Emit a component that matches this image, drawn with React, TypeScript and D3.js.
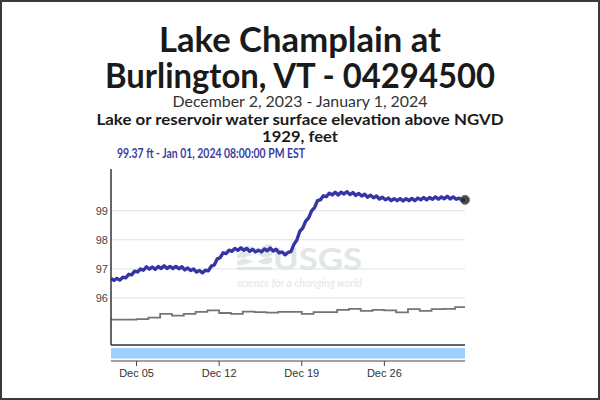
import React from "react";
import * as d3 from "d3";

const titleLines = ["Lake Champlain at", "Burlington, VT - 04294500"];
const subtitle = "December 2, 2023 - January 1, 2024";
const paramLines = ["Lake or reservoir water surface elevation above NGVD", "1929, feet"];
const latestLabel = "99.37 ft - Jan 01, 2024 08:00:00 PM EST";

// 6-hourly gage height readings (ft), starting Dec 2, 2023 20:00 EST
const levelStart = "2023-12-02T20:00:00Z";
const levelStepHours = 6;
const levelValues = [
  96.67, 96.60, 96.67, 96.61, 96.71, 96.69, 96.81, 96.79, 96.92, 96.89,
  96.99, 96.95, 97.07, 96.99, 97.06, 96.98, 97.08, 97.01, 97.10, 97.01,
  97.08, 97.01, 97.08, 97.00, 97.07, 96.96, 97.03, 96.94, 96.99, 96.89,
  96.94, 96.86, 96.95, 96.93, 97.09, 97.13, 97.34, 97.38, 97.55, 97.52,
  97.64, 97.60, 97.70, 97.63, 97.72, 97.64, 97.70, 97.60, 97.67, 97.58,
  97.64, 97.58, 97.68, 97.62, 97.71, 97.61, 97.67, 97.55, 97.58, 97.48,
  97.56, 97.59, 97.84, 97.99, 98.29, 98.40, 98.64, 98.75, 98.99, 99.10,
  99.34, 99.37, 99.51, 99.48, 99.60, 99.54, 99.63, 99.54, 99.63, 99.57,
  99.65, 99.55, 99.62, 99.52, 99.59, 99.50, 99.56, 99.46, 99.53, 99.44,
  99.50, 99.40, 99.46, 99.37, 99.43, 99.34, 99.41, 99.34, 99.41, 99.33,
  99.41, 99.34, 99.42, 99.34, 99.43, 99.37, 99.45, 99.37, 99.45, 99.39,
  99.47, 99.39, 99.47, 99.41, 99.49, 99.40, 99.47, 99.39, 99.43, 99.36,
  99.37,
];

// Daily comparison series (gray step line)
const compareDates = [
  "2023-12-02", "2023-12-03", "2023-12-04", "2023-12-05", "2023-12-06", "2023-12-07",
  "2023-12-08", "2023-12-09", "2023-12-10", "2023-12-11", "2023-12-12", "2023-12-13",
  "2023-12-14", "2023-12-15", "2023-12-16", "2023-12-17", "2023-12-18", "2023-12-19",
  "2023-12-20", "2023-12-21", "2023-12-22", "2023-12-23", "2023-12-24", "2023-12-25",
  "2023-12-26", "2023-12-27", "2023-12-28", "2023-12-29", "2023-12-30", "2023-12-31",
  "2024-01-01",
];
const compareValues = [
  95.25, 95.25, 95.25, 95.27, 95.32, 95.45, 95.39, 95.45, 95.52, 95.57, 95.48,
  95.45, 95.53, 95.51, 95.49, 95.52, 95.52, 95.45, 95.51, 95.51, 95.59, 95.62,
  95.55, 95.59, 95.57, 95.50, 95.61, 95.55, 95.61, 95.62, 95.68,
];

const yTicks = [96, 97, 98, 99];
const xTickDates = ["2023-12-05", "2023-12-12", "2023-12-19", "2023-12-26"];
const xTickLabels = ["Dec 05", "Dec 12", "Dec 19", "Dec 26"];

const domainStart = "2023-12-02T20:00:00Z";
const domainEnd = "2024-01-01T20:00:00Z";

const FONT = "Lato, 'Open Sans', sans-serif";
const TICK_FONT = "'Liberation Sans', Arial, sans-serif";

export default function App() {
  const W = 600, H = 400;
  const left = 111, right = 465, top = 169, bottom = 345;
  const t0 = new Date(domainStart);
  const t1 = new Date(domainEnd);
  const x = d3.scaleUtc().domain([t0, t1]).range([left, right]);
  const y = d3.scaleLinear().domain([94.38, 100.43]).range([bottom, top]);

  const levelData = levelValues.map((v, i) => ({
    t: new Date(new Date(levelStart).getTime() + i * levelStepHours * 3600 * 1000),
    v,
  }));
  const line = d3
    .line<{ t: Date; v: number }>()
    .x((d) => x(d.t))
    .y((d) => y(d.v));

  const cmp: { t: Date; v: number }[] = compareDates.map((ds, i) => {
    const dt = new Date(ds + "T00:00:00Z");
    return { t: dt < t0 ? t0 : dt, v: compareValues[i] };
  });
  cmp.push({ t: t1, v: compareValues[compareValues.length - 1] });
  const stepLine = d3
    .line<{ t: Date; v: number }>()
    .x((d) => x(d.t))
    .y((d) => y(d.v))
    .curve(d3.curveStepAfter);

  const last = levelData[levelData.length - 1];
  const axisY = 361;

  return (
    <div style={{ position: "absolute", left: 0, top: 0 }}>
      <svg width={W} height={H} style={{ display: "block", fontFamily: FONT }}>
        <rect x={0} y={0} width={W} height={H} fill="#fff" />
        <rect x={1} y={1} width={W - 2} height={H - 2} fill="none" stroke="#3a3a3a" strokeWidth={2} />

        {/* titles */}
        <text x={300} y={52} textAnchor="middle" fontSize={35} fontWeight={700} fill="#1a1a1a"
          textLength={282} lengthAdjust="spacingAndGlyphs">{titleLines[0]}</text>
        <text x={300} y={88} textAnchor="middle" fontSize={35} fontWeight={700} fill="#1a1a1a"
          textLength={390} lengthAdjust="spacingAndGlyphs">{titleLines[1]}</text>
        <text x={300} y={107} textAnchor="middle" fontSize={16} fill="#333"
          textLength={255} lengthAdjust="spacingAndGlyphs">{subtitle}</text>
        <text x={300} y={125} textAnchor="middle" fontSize={15.5} fontWeight={700} fill="#1a1a1a"
          textLength={407} lengthAdjust="spacingAndGlyphs">{paramLines[0]}</text>
        <text x={300} y={142} textAnchor="middle" fontSize={15.5} fontWeight={700} fill="#1a1a1a"
          textLength={76} lengthAdjust="spacingAndGlyphs">{paramLines[1]}</text>
        <text x={117} y={158} fontSize={13.5} fontWeight={700} fill="#3d3d9e"
          textLength={188} lengthAdjust="spacingAndGlyphs">{latestLabel}</text>

        {/* gridlines */}
        {yTicks.map((t) => (
          <line key={t} x1={left} x2={right} y1={y(t)} y2={y(t)} stroke="#e8e8e8" strokeWidth={1.2} />
        ))}

        {/* USGS watermark */}
        <g fill="#dde5e5" opacity={0.9}>
          <path d="M237,262 q6,-6 12,-2 t12,0 t11,-2 l0,4 q-6,4 -11,1 t-12,0 t-12,2 z" />
          <path d="M237,255 q6,-6 12,-2 t12,0 t11,-2 l0,4 q-6,4 -11,1 t-12,0 t-12,2 z" />
          <path d="M240,249 q6,-6 12,-2 t10,0 t10,-2 l0,3 q-6,4 -10,1 t-10,0 t-12,2 z" />
          <path d="M237,267 l35,0 l0,3 l-35,0 z" />
          <text x={273} y={270} fontSize={30} fontWeight={700}
            textLength={89} lengthAdjust="spacingAndGlyphs">USGS</text>
          <text x={237} y={287} fontSize={10.5} fontStyle="italic"
            textLength={125} lengthAdjust="spacingAndGlyphs">science for a changing world</text>
        </g>

        {/* y tick labels */}
        {yTicks.map((t) => (
          <text key={t} x={108} y={y(t) + 4} textAnchor="end" fontSize={11} fill="#444"
            fontFamily={TICK_FONT}>{t}</text>
        ))}

        {/* comparison step line */}
        <path d={stepLine(cmp) || ""} fill="none" stroke="#747474" strokeWidth={1.8} />

        {/* main series */}
        <path d={line(levelData) || ""} fill="none" stroke="#3535a6" strokeWidth={3.4}
          strokeLinejoin="round" />
        <circle cx={x(last.t)} cy={y(last.v)} r={4.5} fill="#2a2a2a" stroke="#555" strokeWidth={1} opacity={0.85} />

        {/* axes */}
        <line x1={left} x2={left} y1={top} y2={bottom} stroke="#333" strokeWidth={1.5} />
        <line x1={left} x2={right} y1={bottom} y2={bottom} stroke="#333" strokeWidth={1.5} />
        <rect x={left} y={348} width={right - left} height={10.5} fill="#9fd0fb" />
        <line x1={left} x2={right} y1={axisY} y2={axisY} stroke="#444" strokeWidth={1.2} />
        {xTickDates.map((ds, i) => {
          const px = x(new Date(ds + "T00:00:00Z"));
          return (
            <g key={ds}>
              <line x1={px} x2={px} y1={axisY} y2={axisY + 5} stroke="#444" strokeWidth={1} />
              <text x={px} y={377} textAnchor="middle" fontSize={11} fill="#333"
                fontFamily={TICK_FONT}>{xTickLabels[i]}</text>
            </g>
          );
        })}
      </svg>
    </div>
  );
}
